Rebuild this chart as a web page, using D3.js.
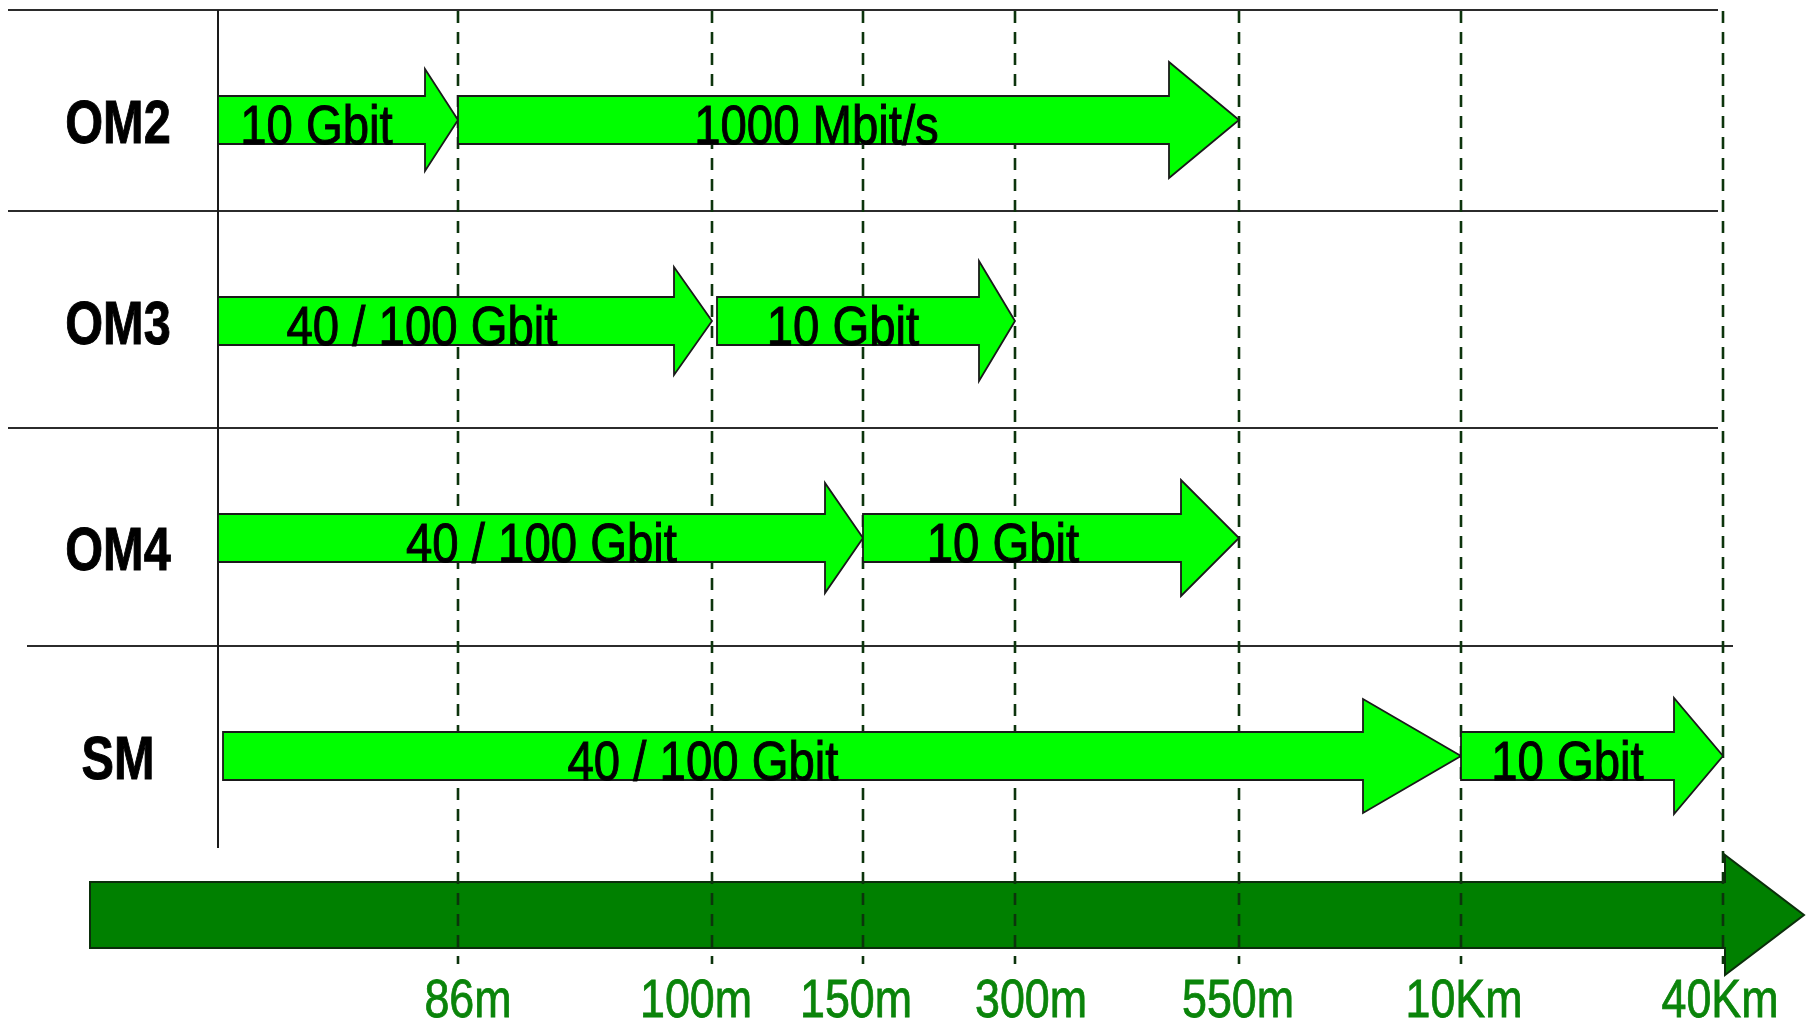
<!DOCTYPE html>
<html>
<head>
<meta charset="utf-8">
<script src="https://cdn.jsdelivr.net/npm/d3@7"></script>
<style>
  html, body { margin: 0; padding: 0; background: #ffffff; }
  svg { display: block; }
</style>
</head>
<body>
<svg id="chart" width="1812" height="1029"></svg>
<script>
// ---- Data: fibre types and the reach of each link speed (metres) ----
const fibres = ["OM2", "OM3", "OM4", "SM"];
const distances = [0, 86, 100, 150, 300, 550, 10000, 40000];
const tickValues = [86, 100, 150, 300, 550, 10000, 40000];
const tickLabels = ["86m", "100m", "150m", "300m", "550m", "10Km", "40Km"];

const segFibre = ["OM2", "OM2", "OM3", "OM3", "OM4", "OM4", "SM", "SM"];
const segFrom  = [0, 86, 0, 100, 0, 150, 0, 10000];
const segTo    = [86, 550, 100, 300, 150, 550, 10000, 40000];
const segRate  = ["10 Gbit", "1000 Mbit/s", "40 / 100 Gbit", "10 Gbit",
                  "40 / 100 Gbit", "10 Gbit", "40 / 100 Gbit", "10 Gbit"];

// ---- Styling of the block arrows (one entry per segment) ----
const headLen    = [33, 70, 38, 36, 38, 58, 98, 49];
const headHalf   = [51, 58, 54, 60, 55, 58, 57, 58];
const startShift = [0, 0, 0, 5, 0, 0, 5, 0];
const textShift  = [-5, 3, -24, -5, 20, -19, -90, 0];
const rowLabelShift = [0, 0, 9, 0];
const tickLabelShift = [10, -16, -7, 16, -1, 3, -3];

const FONT = "'Liberation Sans', Arial, Helvetica, sans-serif";
const svg = d3.select("#chart");

// Non-uniform distance axis: each breakpoint gets its own column.
const x = d3.scaleLinear()
  .domain(distances)
  .range([218, 458, 712, 863, 1015, 1239, 1461, 1723]);

// Top edge of each fibre's row band.
const rowTop = d3.scaleOrdinal().domain(fibres).range([10, 211, 428, 646]);
const rowMid = f => rowTop(f) + 110;

const BODY = 24;

function arrowPath(x0, x1, cy, hl, hh, bh) {
  const p = d3.path();
  p.moveTo(x0, cy - bh);
  p.lineTo(x1 - hl, cy - bh);
  p.lineTo(x1 - hl, cy - hh);
  p.lineTo(x1, cy);
  p.lineTo(x1 - hl, cy + hh);
  p.lineTo(x1 - hl, cy + bh);
  p.lineTo(x0, cy + bh);
  p.closePath();
  return p.toString();
}

// Row separators
svg.append("g").selectAll("line")
  .data(fibres)
  .join("line")
  .attr("x1", (d, i) => i === fibres.length - 1 ? 27 : 8)
  .attr("x2", (d, i) => i === fibres.length - 1 ? 1733 : 1718)
  .attr("y1", d => rowTop(d))
  .attr("y2", d => rowTop(d))
  .attr("stroke", "#2b2b2b")
  .attr("stroke-width", 2);

// Left boundary of the distance scale
svg.append("line")
  .attr("x1", x(0)).attr("x2", x(0))
  .attr("y1", rowTop(fibres[0])).attr("y2", 848)
  .attr("stroke", "#1a1a1a")
  .attr("stroke-width", 2);

// Distance axis drawn as a large dark-green arrow
const axisY = 915;
svg.append("path")
  .attr("d", arrowPath(90, x(40000) + 81, axisY, 79, 60, 33))
  .attr("fill", "#008000")
  .attr("stroke", "#0b2e0b")
  .attr("stroke-width", 2)
  .attr("stroke-linejoin", "miter");

// Dashed guides at each distance breakpoint
svg.append("g").selectAll("line")
  .data(tickValues)
  .join("line")
  .attr("x1", d => x(d)).attr("x2", d => x(d))
  .attr("y1", 11).attr("y2", 964)
  .attr("stroke", "#0c340c")
  .attr("stroke-width", 2.6)
  .attr("stroke-dasharray", "12,9");

// Link-speed arrows
const segs = segRate.map((rate, i) => ({
  fibre: segFibre[i], from: segFrom[i], to: segTo[i], rate,
  hl: headLen[i], hh: headHalf[i], s0: startShift[i], ts: textShift[i]
}));

svg.append("g").selectAll("path")
  .data(segs)
  .join("path")
  .attr("d", d => arrowPath(x(d.from) + d.s0, x(d.to), rowMid(d.fibre), d.hl, d.hh, BODY))
  .attr("fill", "#00ff00")
  .attr("stroke", "#1a1a1a")
  .attr("stroke-width", 1.8)
  .attr("stroke-linejoin", "miter");

svg.append("g").selectAll("text")
  .data(segs)
  .join("text")
  .attr("transform", d => {
    const cx = ((x(d.from) + d.s0) + (x(d.to) - d.hl)) / 2 + d.ts;
    return `translate(${cx},${rowMid(d.fibre) + BODY}) scale(0.845,1)`;
  })
  .attr("text-anchor", "middle")
  .attr("font-family", FONT)
  .attr("font-size", 56)
  .attr("fill", "#000")
  .attr("stroke", "#000")
  .attr("stroke-width", 1)
  .text(d => d.rate);

// Fibre type labels
svg.append("g").selectAll("text")
  .data(fibres)
  .join("text")
  .attr("transform", (d, i) => `translate(118,${rowTop(d) + 133 + rowLabelShift[i]}) scale(0.785,1)`)
  .attr("text-anchor", "middle")
  .attr("font-family", FONT)
  .attr("font-weight", "bold")
  .attr("font-size", 62)
  .attr("fill", "#000")
  .attr("stroke", "#000")
  .attr("stroke-width", 1)
  .text(d => d);

// Distance tick labels
svg.append("g").selectAll("text")
  .data(tickValues)
  .join("text")
  .attr("transform", (d, i) => `translate(${x(d) + tickLabelShift[i]},1017) scale(0.83,1)`)
  .attr("text-anchor", "middle")
  .attr("font-family", FONT)
  .attr("font-size", 54)
  .attr("fill", "#0a840a")
  .attr("stroke", "#0a840a")
  .attr("stroke-width", 0.8)
  .text((d, i) => tickLabels[i]);
</script>
</body>
</html>
